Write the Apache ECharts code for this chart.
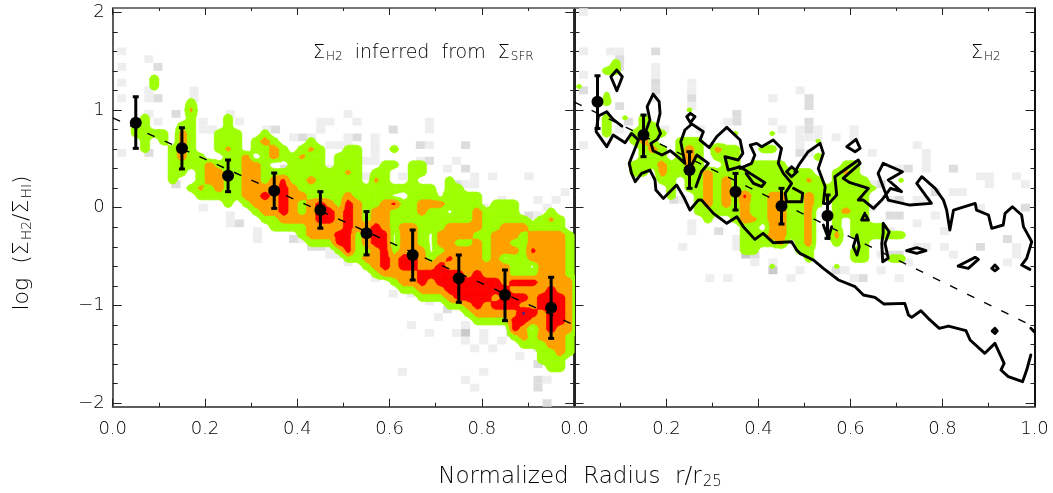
<!DOCTYPE html>
<html><head><meta charset="utf-8">
<style>html,body{margin:0;padding:0;background:#fff}#c{width:1053px;height:493px}</style>
<script src="https://cdn.jsdelivr.net/npm/echarts@6/dist/echarts.min.js"></script></head>
<body><div id="c"></div>
<script>
// Binned means with error bars: [x, y, top, bottom]
const meansLeft=[[.05,.87,1.135,.607],[.15,.607,.818,.396],[.25,.327,.488,.164],[.35,.174,.355,-.007],[.45,-.024,.164,-.21],[.55,-.262,-.04,-.483],[.65,-.484,-.228,-.74],[.75,-.723,-.484,-.968],[.85,-.893,-.637,-1.156],[.95,-1.023,-.712,-1.337]];
const meansRight=[[.05,1.084,1.35,.81],[.15,.743,.948,.522],[.25,.385,.573,.198],[.35,.164,.351,-.024],[.45,.017,.198,-.167],[.55,-.082,.13,-.314]];
const fitLeft=[[0,.92],[1,-1.2]];
const fitRight=[[0,1.08],[1,-1.22]];
const xMajor=[0,.2,.4,.6,.8,1];
const xMinor=[.1,.3,.5,.7,.9];
const yMajor=[-2,-1,0,1,2];
const yMinor=[-1.8,-1.6,-1.4,-1.2,-.8,-.6,-.4,-.2,.2,.4,.6,.8,1.2,1.4,1.6,1.8];
const xLabelsLeft=[0,.2,.4,.6,.8];
const xLabelsRight=[0,.2,.4,.6,.8,1];
// Density level per bin, one row per y bin: [row, levels]. . none, 1 green, 2 orange, 3 red, a/b/g/h/p faint peaks and holes
const levelsLeft=[
[16,"....1....."],[15,"....1....."],[13,"........1."],[12,"........a."],
[11,"...1....1. ..1......."],
[10,"..11...11. ..1......."],
[9,"..1111.21. .111..1..."],
[8,"...1.1.21. .111.121.. .1........"],
[7,"...1..121. .1a1.1121. 1a1..11... 1........."],
[6,"......1211 ..112.1211 a11.111..."],
[5,"......1111 2111221..1 111.111..1 1.11......"],
[4,"......11.1 2211221111 11111a1.11 ..11......"],
[3,"......1..1 22112212b1 1211111.a1 ..1...1..."],
[2,"........1a 1211222232 1111111111 11111.11.."],
[1,".........1 1111223232 2111121111 h.111h1111"],
[0,".......... ..1.122232 1232132112 b112221111 .111......"],
[-1,".......... .....12232 1233232122 111211h112 1111...1.."],
[-2,".......... ......1122 2233232122 1111111112 11111h1a1."],
[-3,".......... .......111 1222232232 1221112222 112221111."],
[-4,".......... .......... 1222331233 h221h22221 1222122221"],
[-5,".......... .......... .111331233 h221h22112 1221122221"],
[-6,".......... .......... ....131123 1222h12222 12221b2221"],
[-7,".......... .......... .....11223 233212b222 12h1122221"],
[-8,".......... .......... .......123 2332232222 22211h2221"],
[-9,".......... .......... ........12 2223333323 2221112221"],
[-10,".......... .......... .......... 1223233333 3323332222"],
[-11,".......... .......... .......... .112223333 3332222322"],
[-12,".......... .......... .......... ...1112333 3233323332"],
[-13,".......... .......... .......... ......1123 2333223332"],
[-14,".......... .......... .......... ........12 2222p32332"],
[-15,".......... .......... .......... .........1 1113322332"],
[-16,".......... .......... .......... .......... ...32h2322"],
[-17,".......... .......... .......... .......... ...1212221"],
[-18,".......... .......... .......... .......... ....111221"],
[-19,".......... .......... .......... .......... ......1121"],
[-20,".......... .......... .......... .......... ......111."],
[-21,".......... .......... .......... .......... .......11."]];
const levelsRight=[
[18,"....1....."],[17,"...11....."],[15,"g........."],[14,"...g......"],[13,"...1......"],
[12,".......... ..g......."],
[11,"...1.g.1.. .........."],
[10,"...1...11."],
[9,"...1..1a11 .......g.. .g........"],
[8,"......121. .111...... ......g..."],
[7,".......121 .121.211.. 11........"],
[6,".......111 .121.111.. ......1..."],
[5,"......1112 1121..11.1 111......1 1........."],
[4,"......11.2 1111211111 111111..1a 1........."],
[3,".........1 1.11212111 11111a1.11 11...g...."],
[2,".......... 1.11212111 1111111111 11g......."],
[1,".......... 1..12121b1 1221121111 11........"],
[0,".......... ...1212121 1221121.11 11........"],
[-1,".......... ...1111121 122112..12 11........"],
[-2,".......... ....1..12a 122112..1. 11........"],
[-3,".......... ........11 .22112..1. 1111......"],
[-4,".......... ........11 122112..2. 111111...."],
[-5,".......... ........11 112.12..1. .1........"],
[-6,".......... ........11 ....11.... 11........"],
[-7,".......... .......... .....1.... 11..11...."],
[-8,".......... .......... .g......g."]];
// Sparse grey bins: [column, row, shade 1..3]
const greyLeft=[[1,20,1],[1,18,1],[1,16,1],[1,14,1],[4,19,1],[5,18,2],[5,14,2],[4,14,1],[4,15,1],[4,12,1],[7,12,2],[9,15,1],[9,14,1],[5,11,1],[4,7,2],[1,7,1],[10,11,1],[10,10,1],[13,12,1],[14,11,1],[11,10,1],[17,10,1],[18,10,2],[20,9,1],[21,9,2],[22,9,1],[23,11,1],[24,11,1],[23,10,1],[24,8,1],[19,5,2],[24,5,1],[7,3,2],[10,0,1],[11,2,1],[13,-1,1],[13,-2,1],[14,-2,2],[16,-3,1],[16,-4,1],[20,-4,2],[21,-4,1],[22,-5,2],[23,-5,2],[24,-5,1],[24,-6,1],[25,-6,1],
[26,12,1],[27,11,1],[31,10,2],[35,11,1],[35,10,1],[26,9,1],[27,9,2],[29,9,1],[34,8,2],[35,8,1],[39,8,2],[25,8,1],[26,8,1],[29,8,1],[29,7,1],[29,6,1],[34,6,1],[35,6,2],[38,6,1],[37,5,1],[39,5,2],[40,4,1],[42,4,1],[46,4,1],[40,3,1],[39,3,1],[38,3,2],[50,2,1],[43,1,1],[47,1,1],[49,1,1],[44,0,2],[41,0,1],[48,0,1],[46,-1,2],[47,-1,1],[32,4,1],[28,4,1],[28,6,1],
[25,-6,1],[26,-7,1],[29,-9,1],[31,-11,1],[33,-11,1],[35,-12,1],[36,-14,1],[33,-15,1],[35,-16,1],[37,-13,2],[38,-16,1],[39,-15,1],[39,-16,3],[39,-17,1],[41,-16,1],[41,-17,1],[40,-18,1],[42,-18,1],[43,-17,1],[44,-16,2],[45,-19,1],[47,-18,1],[47,-20,2],[48,-22,1],[47,-22,2],[47,-23,2],[48,-25,2],[32,-21,1],[39,-22,1],[41,-21,1],[40,-23,1]];
const greyRight=[[1,25,1],[1,20,1],[1,17,1],[1,15,2],[4,20,1],[5,20,1],[5,19,2],[5,18,2],[5,13,2],[9,20,2],[9,18,1],[9,17,1],[9,16,2],[9,15,2],[9,14,1],[6,11,2],[5,10,1],[10,10,1],[13,16,1],[13,15,1],[13,14,2],[13,13,1],[18,12,2],[18,11,2],[17,11,1],[22,14,1],[25,15,1],[26,14,2],[26,13,2],[22,11,1],[23,10,1],[25,10,1],[25,9,1],[25,8,1],[25,7,2],[26,7,1],[26,9,1],[14,10,1],[1,8,1],[10,7,1],[8,5,1],[11,1,2],[12,1,1],
[26,11,2],[26,10,2],[27,10,1],[27,9,1],[29,9,1],[31,10,1],[31,9,1],[33,7,1],[38,8,1],[39,7,1],[39,6,1],[39,5,1],[37,5,2],[36,5,1],[42,5,2],[45,4,1],[46,4,1],[46,3,1],[49,4,1],[50,3,1],[42,2,1],[43,2,1],[40,2,2],[33,3,1],[34,3,2],[35,1,1],[36,1,2],[38,1,1],[39,1,1],[50,0,2],[45,0,1],[33,0,1],
[13,-2,1],[13,-3,1],[12,-5,1],[16,-3,2],[16,-1,1],[18,-5,1],[18,-4,1],[19,-6,3],[20,-6,2],[20,-7,1],[22,-7,1],[22,-8,3],[15,-9,1],[17,-9,1],[24,-9,1],[25,-8,1],[25,-3,1],[25,-4,1],[24,-4,1],[24,-1,1],[25,-1,1],[25,-2,1],
[45,-5,2],[41,-5,1],[42,-6,1],[48,-4,2],[49,-5,1],[49,-6,1],[48,-7,1],[40,-1,1],[41,-3,1],[36,-1,2],[35,-1,2],[38,-2,1],[34,-3,2],[35,-3,1],[36,-6,2],[35,-6,2],[34,-6,1],[39,-5,1],[38,-5,1],[37,-7,1],[36,-9,1],[34,-8,1],[32,-9,2],[31,-9,1],[29,-8,2],[30,-8,1],[32,-5,1]];
// Black contour of the observed distribution (right panel)
const openA=[[.103,.835],[.084,.904],[.07,.982],[.052,.938],[.047,.778],[.07,.624],[.084,.743],[.11,.665],[.124,.76],[.139,.692],[.119,.454],[.124,.351],[.132,.266],[.146,.351],[.164,.385],[.175,.283],[.177,.181],[.193,.095],[.222,.232],[.237,.113],[.251,-.024],[.269,.078],[.276,.078],[.302,-.058],[.331,-.16],[.353,-.092],[.367,-.194],[.392,-.324],[.41,-.263],[.432,-.358],[.472,-.348],[.483,-.433],[.49,-.467],[.519,-.535],[.541,-.621],[.574,-.74],[.61,-.808],[.628,-.893],[.653,-.917],[.673,-.986],[.718,-.979],[.726,-1.098],[.733,-1.122],[.753,-1.054],[.769,-1.132],[.793,-1.234],[.813,-1.211],[.851,-1.258],[.86,-1.354],[.892,-1.49],[.914,-1.388],[.934,-1.593],[.927,-1.661],[.943,-1.729],[.974,-1.78],[.983,-1.661],[.992,-1.507]];
const openB=[[.153,.76],[.164,.897],[.158,1.033],[.171,1.163],[.184,1.084],[.186,.965],[.18,.846],[.187,.76],[.18,.699],[.166,.658],[.171,.583],[.19,.539],[.208,.583],[.224,.522],[.24,.454],[.231,.675],[.24,.795],[.255,.856],[.28,.778],[.273,.692],[.293,.614],[.309,.726],[.331,.822],[.36,.692],[.366,.556],[.356,.488],[.327,.522],[.334,.385],[.36,.419],[.382,.351],[.414,.256],[.407,.215],[.389,.249],[.373,.351]];
const openC=[[.251,.402],[.266,.539],[.291,.454],[.276,.368],[.264,.215]];
const openD=[[.36,.402],[.385,.454],[.392,.539],[.382,.641],[.396,.658],[.407,.624],[.432,.692],[.45,.607],[.443,.454],[.454,.351],[.472,.249],[.458,.147],[.461,.061],[.494,.061],[.496,.147],[.476,.198]];
const openE=[[.479,.368],[.49,.454],[.508,.573],[.534,.658],[.541,.556],[.53,.402],[.545,.215],[.541,.044],[.552,.037],[.57,.13],[.566,.317],[.617,.488],[.621,.454],[.584,.3],[.599,.256],[.639,.198],[.617,.078],[.628,.078],[.65,-.007],[.668,.078],[.687,.198],[.711,.164],[.682,.283],[.713,.368],[.671,.454],[.66,.351],[.675,.164],[.682,.078],[.729,.027],[.776,.044],[.744,.249],[.755,.317],[.784,.198],[.802,.078],[.809,-.024],[.816,-.228],[.824,-.024],[.871,.044],[.874,-.024],[.9,-.075],[.907,-.211],[.932,-.177],[.936,-.058],[.952,.01],[.972,-.075],[.976,-.194],[.994,-.348],[.983,-.518],[.972,-.587],[.99,-.631]];
const openF=[[.541,-.177],[.552,-.314],[.559,-.194]];
const openG=[[.992,-1.234],[1,-1.27]];
const loops=[
[[.092,1.408],[.079,1.34],[.092,1.197],[.104,1.34]],
[[.252,.965],[.244,.931],[.252,.87],[.262,.931]],
[[.472,.419],[.461,.368],[.472,.317],[.484,.368]],
[[.592,.624],[.612,.699],[.621,.607],[.61,.573]],
[[.671,-.16],[.684,-.246],[.675,-.365],[.682,-.518],[.67,-.552],[.668,-.365],[.671,-.263]],
[[.614,-.28],[.619,-.399],[.614,-.484],[.606,-.399]],
[[.722,-.44],[.744,-.409],[.764,-.44],[.744,-.467]],
[[.834,-.597],[.871,-.508],[.878,-.529],[.856,-.621]],
[[.914,-.587],[.921,-.621],[.914,-.645],[.907,-.621]],
[[.914,-1.234],[.919,-1.262],[.914,-1.286],[.908,-1.262]],
[[.631,-.058],[.639,-.126],[.624,-.126]]];

const FONT='"DejaVu Sans"';
const TXT='#000';
const LV={'.':0,h:.7,g:1.4,'1':2,a:3.4,'2':4,b:5.4,'3':6,p:8.4};
const THRESH=[1,3,5,8];
const COLS=['#9dff00','#ffa000','#ff0000','#3c2a8c'];
const GREY=[null,'#eeeeee','#dddddd','#cacaca'];
const YMIN=-2.036,YMAX=2.043;

function buildLevels(rows){
  const m={};
  rows.forEach(([k,s])=>{const t=s.replace(/ /g,'');for(let i=0;i<t.length;i++)m[i+','+k]=LV[t[i]]||0;});
  const v=(i,k)=>m[i+','+k]||0;
  const out=THRESH.map(()=>[]);
  function clip(poly,t){
    const r=[];
    for(let a=0;a<poly.length;a++){
      const p=poly[a],q=poly[(a+1)%poly.length];
      if(p[2]>=t)r.push([p[0],p[1]]);
      if((p[2]>=t)!==(q[2]>=t)){
        const f=(t-p[2])/(q[2]-p[2]);
        r.push([p[0]+(q[0]-p[0])*f,p[1]+(q[1]-p[1])*f]);
      }
    }
    return r;
  }
  for(let i=-1;i<50;i++)for(let k=-26;k<25;k++){
    const P=(a,b)=>[(a+.5)*.02,(b+.5)*.08,v(a,b)];
    const c=[P(i,k),P(i+1,k),P(i+1,k+1),P(i,k+1)];
    const mid=[(i+1)*.02,(k+1)*.08,(c[0][2]+c[1][2]+c[2][2]+c[3][2])/4];
    THRESH.forEach((t,l)=>{
      const vals=c.map(p=>p[2]);
      if(Math.max(...vals)<t)return;
      if(Math.min(...vals)>=t){out[l].push(c.map(p=>[p[0],p[1]]));return;}
      for(let e=0;e<4;e++){
        const poly=clip([c[e],c[(e+1)%4],mid],t);
        if(poly.length>2)out[l].push(poly);
      }
    });
  }
  return out;
}
function levelSeries(rows,g){
  const polys=buildLevels(rows);
  return polys.map((list,l)=>({
    type:'custom',xAxisIndex:g*4,yAxisIndex:g*4,z:3+l*0.01,clip:true,silent:true,
    data:[[0,0]],
    renderItem:(p,api)=>({type:'group',children:list.map(poly=>({
      type:'polygon',
      shape:{points:poly.map(q=>api.coord(q))},
      style:{fill:COLS[l],stroke:COLS[l],lineWidth:.6}
    }))})
  }));
}
function greySeries(cells,g){
  return {type:'custom',xAxisIndex:g*4,yAxisIndex:g*4,z:2,clip:true,silent:true,
    data:cells.map(([m,k,s])=>[m/51,k*.08,s]),
    renderItem:(p,api)=>{
      const c=api.coord([api.value(0),api.value(1)]);
      const a=api.size([1/51,.08]);
      return {type:'rect',shape:{x:c[0]-a[0]/2,y:c[1]-a[1]/2,width:a[0],height:a[1]},style:{fill:GREY[api.value(2)]}};
    }};
}
function fitSeries(d,g){
  return {type:'line',xAxisIndex:g*4,yAxisIndex:g*4,z:5,data:d,symbol:'none',silent:true,
    lineStyle:{color:'#000',width:1.4,type:[8,11]}};
}
function pathSeries(d,g){
  return {type:'line',xAxisIndex:g*4,yAxisIndex:g*4,z:6,data:d,symbol:'none',silent:true,
    lineStyle:{color:'#000',width:2.9,join:'round',cap:'round'}};
}
function meanSeries(d,g){
  return [{type:'custom',xAxisIndex:g*4,yAxisIndex:g*4,z:7,silent:true,data:d,
    renderItem:(p,api)=>{
      const x=api.value(0),t=api.coord([x,api.value(2)]),b=api.coord([x,api.value(3)]);
      const ln=(a,c,d2,e)=>({type:'line',shape:{x1:a,y1:c,x2:d2,y2:e},style:{stroke:'#000',lineWidth:3}});
      return {type:'group',children:[ln(t[0],t[1],t[0],b[1]),ln(t[0]-3,t[1],t[0]+3,t[1]),ln(t[0]-3,b[1],t[0]+3,b[1])]};
    }},
    {type:'scatter',xAxisIndex:g*4,yAxisIndex:g*4,z:8,silent:true,symbol:'circle',symbolSize:12,
     itemStyle:{color:'#000',opacity:1},data:d.map(r=>[r[0],r[1]])}];
}
const tickFmt=v=>{const a=Math.abs(v);return (v<0?'\u2212':'')+a;};
function axes(g,gridIndex,labels,rightCol,leftCol){
  const xs=[],ys=[];
  const base={min:0,max:1,type:'value',gridIndex,splitLine:{show:false}};
  const hidden={show:false};
  const L=(c,w)=>({show:true,onZero:false,lineStyle:{color:c,width:w}});
  xs.push({...base,position:'bottom',axisLine:L('#5c5c5c',2),
    axisTick:{show:true,inside:true,length:8,lineStyle:{color:'#222',width:1},customValues:xMajor},
    axisLabel:{show:true,customValues:labels,margin:14,formatter:v=>v.toFixed(1),color:TXT,fontFamily:FONT,fontSize:18,fontWeight:200,hideOverlap:false,showMinLabel:true,showMaxLabel:true}});
  xs.push({...base,position:'bottom',axisLine:{show:false,onZero:false},axisLabel:hidden,
    axisTick:{show:true,inside:true,length:4,lineStyle:{color:'#222',width:1},customValues:xMinor}});
  xs.push({...base,position:'top',axisLine:L('#777',2),axisLabel:hidden,
    axisTick:{show:true,inside:true,length:7,lineStyle:{color:'#222',width:1},customValues:xMajor}});
  xs.push({...base,position:'top',axisLine:{show:false,onZero:false},axisLabel:hidden,
    axisTick:{show:true,inside:true,length:3,lineStyle:{color:'#222',width:1},customValues:xMinor}});
  const yb={min:YMIN,max:YMAX,type:'value',gridIndex,splitLine:{show:false}};
  ys.push({...yb,position:'left',axisLine:L(leftCol,2),
    axisTick:{show:true,inside:true,length:9,lineStyle:{color:'#222',width:1},customValues:yMajor},
    axisLabel:g===0?{show:true,customValues:yMajor,margin:8,formatter:tickFmt,color:TXT,fontFamily:FONT,fontSize:18,fontWeight:200,showMinLabel:true,showMaxLabel:true}:hidden});
  ys.push({...yb,position:'left',axisLine:{show:false,onZero:false},axisLabel:hidden,
    axisTick:{show:true,inside:true,length:5,lineStyle:{color:'#222',width:1},customValues:yMinor}});
  ys.push({...yb,position:'right',axisLine:L(rightCol,2),axisLabel:hidden,
    axisTick:{show:true,inside:true,length:9,lineStyle:{color:'#222',width:1},customValues:yMajor}});
  ys.push({...yb,position:'right',axisLine:{show:false,onZero:false},axisLabel:hidden,
    axisTick:{show:true,inside:true,length:4,lineStyle:{color:'#222',width:1},customValues:yMinor}});
  return {xs,ys};
}
const sub=(size,pad)=>({fontFamily:FONT,fontWeight:200,fontSize:size,color:TXT,padding:[pad,0,0,1]});
const A=axes(0,0,xLabelsLeft,'#333','#5c5c5c');
const B=axes(1,1,xLabelsRight,'#111','#222');
const series=[
  greySeries(greyLeft,0),...levelSeries(levelsLeft,0),fitSeries(fitLeft,0),...meanSeries(meansLeft,0),
  greySeries(greyRight,1),...levelSeries(levelsRight,1),fitSeries(fitRight,1),
  pathSeries(openA,1),pathSeries(openB,1),pathSeries(openC,1),pathSeries(openD,1),pathSeries(openE,1),pathSeries(openF,1),pathSeries(openG,1),
  ...loops.map(l=>pathSeries(l.concat([l[0]]),1)),
  ...meanSeries(meansRight,1)
];
const chart=echarts.init(document.getElementById('c'),null,{renderer:'canvas'});
chart.setOption({
  animation:false,backgroundColor:'#fff',
  grid:[{left:112.7,top:8,width:461.5,height:398.7},{left:574.5,top:8,width:460,height:398.7}],
  xAxis:A.xs.concat(B.xs),yAxis:A.ys.concat(B.ys),
  title:[
    {text:'Normalized  Radius  r/r{s|25}',left:575,top:460,textAlign:'center',textStyle:{color:TXT,fontFamily:FONT,fontSize:23,fontWeight:200,rich:{s:sub(15,10)}}},
    {text:'\u03A3{s|H2}  inferred  from  \u03A3{s|SFR}',left:308,top:38,textStyle:{color:TXT,fontFamily:FONT,fontSize:19,fontWeight:200,rich:{s:sub(12,8)}}},
    {text:'\u03A3{s|H2}',left:966,top:38,textStyle:{color:TXT,fontFamily:FONT,fontSize:19,fontWeight:200,rich:{s:sub(12,8)}}}
  ],
  graphic:[{type:'text',x:22,y:243,rotation:Math.PI/2,silent:true,
    style:{text:'log  (\u03A3{s|H2}/\u03A3{s|HI})',fill:TXT,font:'200 22px "DejaVu Sans"',align:'center',verticalAlign:'middle',
      rich:{s:{fontFamily:FONT,fontWeight:200,fontSize:14,fill:TXT,padding:[10,0,0,1]}}}}],
  series
});
</script></body></html>
